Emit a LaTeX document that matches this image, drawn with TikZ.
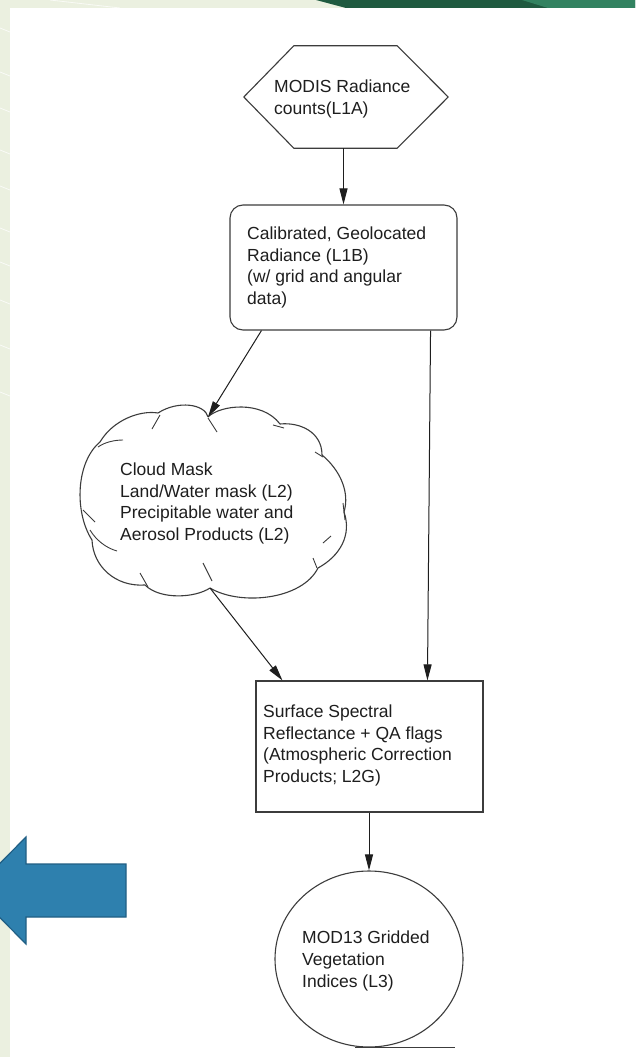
\documentclass[tikz,border=0pt]{standalone}
\usepackage{fontspec}
\setmainfont{Liberation Sans}
\usetikzlibrary{arrows.meta,calc,shapes.geometric}
\definecolor{bgstrip}{HTML}{EBF0E0}
\definecolor{darkgreen}{HTML}{1F5A40}
\definecolor{midgreen}{HTML}{328260}
\definecolor{arrowblue}{HTML}{2E80AE}
\definecolor{arrowedge}{HTML}{215F84}
\definecolor{shapegray}{HTML}{3C3C3C}
\definecolor{linegray}{HTML}{1E1E1E}
\definecolor{textgray}{HTML}{1E1E1E}
\begin{document}
\begin{tikzpicture}[x=1pt,y=-1pt,
  txt/.style={align=left, inner sep=0pt, anchor=west, text=textgray,
    font=\fontsize{17.5}{21.8}\selectfont},
  shapeline/.style={draw=shapegray, line width=1.1pt},
  arr/.style={draw=linegray, line width=1pt, -{Triangle[length=16pt,width=8pt]}},
  tick/.style={draw=shapegray, line width=0.9pt},
  hole/.style={draw=none, inner sep=0pt}]
\useasboundingbox (0,0) rectangle (635,1057);
\begin{scope}
\clip (0,0) rectangle (635,1057);
% background
\fill[bgstrip] (0,0) rectangle (635,1057);
\fill[white] (10,8) rectangle (635,1057);
\fill[darkgreen] (316,0) -- (635,0) -- (635,8) -- (346,8) -- cycle;
\fill[midgreen] (522,0) -- (635,0) -- (635,8) -- (548,8) -- cycle;
\foreach \yy in {28,72,108,150,186,228,262,300,345,392}
  \draw[white, line width=0.7pt, opacity=0.8] (0,\yy) -- (10,\yy+4);
\draw[white, line width=0.8pt, opacity=0.7] (50,0) -- (120,8);

% blue arrow
\fill[arrowblue, draw=arrowedge, line width=1.2pt, line join=miter]
  (126,864) -- (26,864) -- (26,837) -- (-27,890.5) -- (26,944) -- (26,917) -- (126,917) -- cycle;
\end{scope}

% hexagon
\node[hole, minimum width=204pt, minimum height=102pt] (hex) at (346,97) {};
\draw[shapeline] (hex.west) -- ($(hex.north west)+(50,0)$) -- ($(hex.north east)+(-51,0)$)
  -- (hex.east) -- ($(hex.south east)+(-51,0)$) -- ($(hex.south west)+(50,0)$) -- cycle;
\node[txt] (thex) at (274,99) {MODIS Radiance\\counts(L1A)};

% calibrated box
\node[shapeline, rounded corners=13pt, minimum width=227pt, minimum height=125pt, inner sep=0pt] (box1) at (343.5,267.5) {};
\node[txt] (tbox1) at (247,267.5) {Calibrated, Geolocated\\Radiance (L1B)\\(w/ grid and angular\\data)};

% cloud
\coordinate (cloudtop) at (208,417);
\coordinate (cloudbot) at (210,588);
\draw[shapeline, line join=round] (cloudtop)
  .. controls (220,405) and (262,400) .. (280,424)
  .. controls (300,422) and (322,432) .. (322,455)
  .. controls (340,470) and (350,492) .. (344,512)
  .. controls (352,535) and (340,556) .. (318,568)
  .. controls (302,600) and (240,606) .. (cloudbot)
  .. controls (195,598) and (160,600) .. (145,585)
  .. controls (115,587) and (93,566) .. (92,540)
  .. controls (74,512) and (76,462) .. (100,442)
  .. controls (113,420) and (140,410) .. (158,413)
  .. controls (178,400) and (205,404) .. (cloudtop);
\draw[tick] (208,418) -- (217,432);
\draw[tick] (152,429) -- (160,415);
\draw[tick] (98,447) .. controls (105,442) and (115,440) .. (123,440);
\draw[tick] (83,510) -- (95,522);
\draw[tick] (90,530) .. controls (96,540) and (106,548) .. (117,551);
\draw[tick] (203,563) -- (212,581);
\draw[tick] (140,573) -- (148,587);
\draw[tick] (273,425) -- (284,428);
\draw[tick] (315,452) -- (323,457);
\draw[tick] (343,503) -- (345,520);
\draw[tick] (323,543) -- (331,536);
\draw[tick] (313,558) -- (317,568);
\node[txt] (tcloud) at (120,503.5) {Cloud Mask\\Land/Water mask (L2)\\Precipitable water and\\Aerosol Products (L2)};

% surface reflectance box
\node[shapeline, minimum width=227pt, minimum height=131pt, inner sep=0pt] (box2) at (369.5,746.5) {};
\node[txt] (tbox2) at (263,745.5) {Surface Spectral\\Reflectance + QA flags\\(Atmospheric Correction\\Products; L2G)};

% circle
\node[shapeline, ellipse, minimum width=188pt, minimum height=176pt, inner sep=0pt] (circ) at (369,959) {};
\node[txt] (tcirc) at (302,961) {MOD13 Gridded\\Vegetation\\Indices (L3)};
\coordinate (tanE) at ($(circ.south)+(86,0)$);
\draw[shapeline] ($(circ.south)+(-14,0)$) -- (tanE);

% connectors
\draw[arr] (hex.south -| box1.north) -- (box1.north);
\draw[arr] ($(box1.south west)+(32,0)$) -- (cloudtop);
\draw[arr] ($(box1.south east)+(-27,0)$) -- ($(box2.north west)+(172,0)$);
\draw[arr] (cloudbot) -- ($(box2.north west)+(27,0)$);
\draw[arr] (box2.south -| circ.north) -- (circ.north);
\end{tikzpicture}
\end{document}
